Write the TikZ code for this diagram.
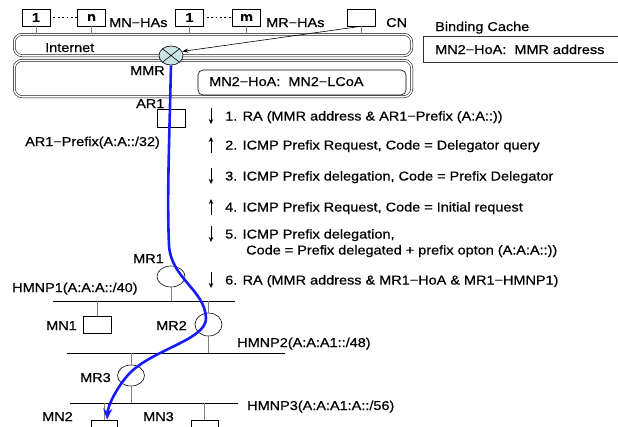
\documentclass[tikz,border=0pt]{standalone}
\usepackage{fontspec}
\setmainfont{Liberation Sans}[FakeStretch=1.13, FakeBold=0.6]
\usetikzlibrary{arrows.meta,shapes.geometric}
\definecolor{mmrfill}{HTML}{CCE4E4}
\definecolor{pathblue}{HTML}{1A1AFF}
\begin{document}
\begin{tikzpicture}[x=1pt,y=-1pt,
  font=\fontsize{12.8}{14}\selectfont,
  box/.style={draw, line width=0.6pt, minimum width=28pt, minimum height=17pt, inner sep=0pt},
  dbox/.style={draw, line width=0.5pt, double, double distance=1.6pt, rounded corners=8pt, inner sep=0pt},
  stub/.style={draw=gray, line width=0.8pt},
  net/.style={line width=0.8pt},
  mr/.style={draw, ellipse, line width=0.6pt, minimum width=28pt, minimum height=21pt, inner sep=0pt},
  lbl/.style={anchor=base west, inner sep=0pt},
  msg/.style={-{Stealth[length=5pt,width=4.5pt]}, line width=0.8pt}]
\useasboundingbox (0,0) rectangle (618,426);
\clip (0,0) rectangle (618,426);

% top hosts
\node[box] (a1) at (36,17.5) {\bfseries 1};
\node[box] (an) at (91.5,17.5) {\bfseries n};
\node[lbl] (mnhas) at (109,27) {MN−HAs};
\node[box] (r1) at (189.5,17.5) {\bfseries 1};
\node[box] (rm) at (246.5,17.5) {\bfseries m};
\node[lbl] (mrhas) at (266,27) {MR−HAs};
\node[box] (cn) at (361,17.5) {};
\node[lbl] (cnl) at (386,27) {CN};
\draw[line width=1.8pt, dash pattern=on 1.8pt off 2.6pt] ([xshift=3pt]a1.east) -- (an.west);
\draw[line width=1.8pt, dash pattern=on 1.8pt off 2.6pt] ([xshift=3pt]r1.east) -- (rm.west);

% Internet and MMR boxes
\node[dbox, minimum width=397.4pt, minimum height=21.4pt] (inet) at (213,45) {};
\node[lbl] (inetl) at (45,52) {Internet};
\node[dbox, minimum width=397.4pt, minimum height=36.4pt] (mmrbox) at (213,78.5) {};
\node[lbl] (mmrl) at (130,75) {MMR};
\node[draw, line width=0.6pt, rounded corners=5pt, minimum width=208pt, minimum height=25pt, inner sep=0pt] (hoa) at (302,82.5) {};
\node[lbl] (hoal) at (209,86) {MN2−HoA:\ \ MN2−LCoA};

\foreach \h in {a1,an,r1,rm,cn} \draw[stub] (\h.south) -- (\h.south |- inet.north);

% binding cache
\node[lbl] (bcl) at (435,31) {Binding Cache};
\node[draw=black!80, line width=0.6pt, minimum width=200pt, minimum height=26pt, inner sep=0pt, anchor=west] (bc) at (423,49) {};
\node[lbl] (bct) at (435,54) {MN2−HoA:\ \ MMR address};

% MMR
\node[draw, ellipse, fill=mmrfill, line width=0.6pt, minimum width=24pt, minimum height=19pt, inner sep=0pt] (mmr) at (171,55.5) {};
\draw[line width=0.6pt] (mmr.north east) -- (mmr.south west) (mmr.north west) -- (mmr.south east);
\draw[line width=0.6pt, -{Stealth[length=6pt,width=4pt]}] (cn.south) -- (mmr.20);

% AR1
\node[lbl] (ar1l) at (136,108) {AR1};
\node[box, minimum height=18pt] (ar1) at (171,118) {};
\node[lbl] (ar1p) at (25,146) {AR1−Prefix(A:A::/32)};

% messages
\foreach \y/\d in {116/1,145/-1,176/1,207/-1,234/1,280/1}
  \draw[msg] (211,\y-8*\d) -- (211,\y+8*\d);
\node[lbl] (m1) at (225,120.5) {1. RA (MMR address \& AR1−Prefix (A:A::))};
\node[lbl] (m2) at (225,149.5) {2. ICMP Prefix Request, Code = Delegator query};
\node[lbl] (m3) at (225,180.5) {3. ICMP Prefix delegation, Code = Prefix Delegator};
\node[lbl] (m4) at (225,211.5) {4. ICMP Prefix Request, Code = Initial request};
\node[lbl] (m5) at (225,238.5) {5. ICMP Prefix delegation,};
\node[lbl] (m5b) at (246,254.5) {Code = Prefix delegated + prefix opton (A:A:A::))};
\node[lbl] (m6) at (225,284.5) {6. RA (MMR address \& MR1−HoA \& MR1−HMNP1)};

% lower network
\coordinate (n1L) at (53,301);  \coordinate (n1R) at (235,301);
\coordinate (n2L) at (67,353);  \coordinate (n2R) at (285,353);
\coordinate (n3L) at (70,403);  \coordinate (n3R) at (238,403);
\draw[net] (n1L) -- (n1R);
\draw[net] (n2L) -- (n2R);
\draw[net] (n3L) -- (n3R);

\node[mr] (mr1) at (171,276.5) {};
\node[lbl] (mr1l) at (133,263) {MR1};
\node[lbl] (h1) at (12,292) {HMNP1(A:A:A::/40)};
\node[box] (mn1) at (97,324.5) {};
\node[lbl] (mn1l) at (46,330) {MN1};
\node[mr, minimum width=27pt, minimum height=23pt] (mr2) at (208.5,324.5) {};
\node[lbl] (mr2l) at (156,330) {MR2};
\node[lbl] (h2) at (237,347) {HMNP2(A:A:A1::/48)};
\node[mr, minimum width=27pt] (mr3) at (131,375.5) {};
\node[lbl] (mr3l) at (80,382) {MR3};
\node[lbl] (h3) at (247,410) {HMNP3(A:A:A1:A::/56)};
\node[box, minimum width=26pt] (mn2) at (104,428.5) {};
\node[lbl] (mn2l) at (42,421) {MN2};
\node[box, minimum width=27pt] (mn3) at (204.5,428.5) {};
\node[lbl] (mn3l) at (143,421) {MN3};

\draw[stub] (mr1.south) -- (mr1.south |- n1L);
\draw[stub] (mn1.north) -- (mn1.north |- n1L);
\draw[stub] (mr2.north) -- (mr2.north |- n1L);
\draw[stub] (mr2.south) -- (mr2.south |- n2L);
\draw[stub] (mr3.north) -- (mr3.north |- n2L);
\draw[stub] (mr3.south) -- (mr3.south |- n3L);
\draw[stub] (mn2.north) -- (mn2.north |- n3L);
\draw[stub] (mn3.north) -- (mn3.north |- n3L);

% blue route
\draw[pathblue, line width=2.6pt, -{Stealth[length=11pt,width=9pt]}]
  (mmr.south) .. controls (169,150) and (167,200) .. (169,245)
  .. controls (170.5,278) and (205,290) .. (206,318)
  .. controls (207,340) and (150,350) .. (128,375)
  .. controls (117,387.5) and (108,405) .. ([xshift=3pt]mn2.north);
\end{tikzpicture}
\end{document}
